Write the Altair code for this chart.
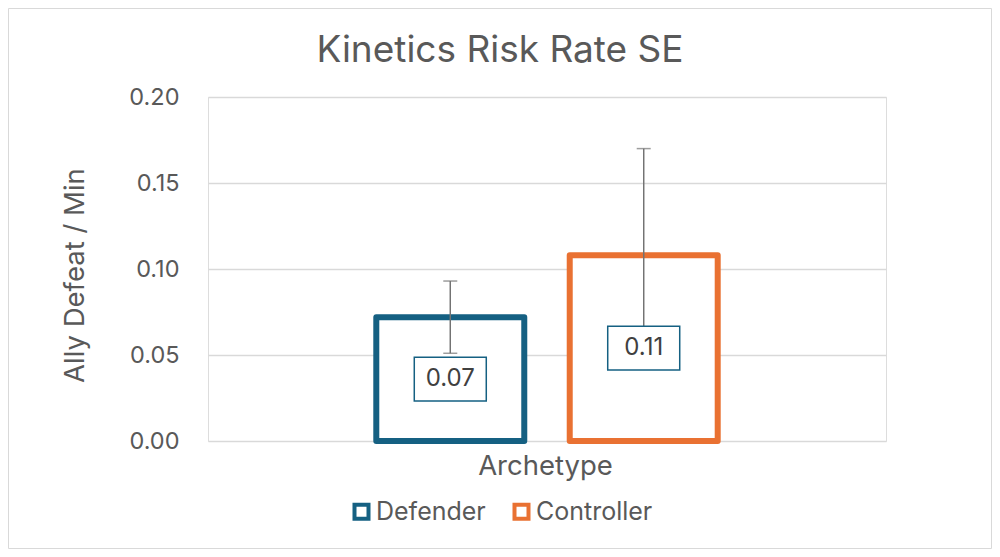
import altair as alt
import pandas as pd

series = ["Defender", "Controller"]
values = [0.072, 0.108]
se = [0.021, 0.062]
labels = ["0.07", "0.11"]
colors = ["#156082", "#E97132"]
y_ticks = [0.0, 0.05, 0.10, 0.15, 0.20]
chart_title = "Kinetics Risk Rate SE"

df = pd.DataFrame({
    "series": series,
    "value": values,
    "lo": [v - s for v, s in zip(values, se)],
    "hi": [v + s for v, s in zip(values, se)],
    "mid": [v / 2 for v in values],
    "label": labels,
})

FONT = "Inter"
TXT = "#595959"

W, H = 678, 344

xenc = alt.X("series:N", sort=series,
             scale=alt.Scale(paddingInner=0.235, paddingOuter=0.87),
             axis=alt.Axis(title="Archetype", labels=False, ticks=False, domain=False,
                           titleFontSize=27.5, titleColor=TXT, titleFont=FONT, titleFontWeight="normal",
                           titleX=W / 2 - 2, titleY=25, titleBaseline="middle", titleAlign="center"))
yscale = alt.Scale(domain=[0, 0.2], nice=False)

base = alt.Chart(df)

bars = base.mark_bar(fill="white", strokeWidth=6, strokeJoin="round").encode(
    x=xenc,
    y=alt.Y("value:Q", scale=yscale,
            axis=alt.Axis(title="Ally Defeat / Min", values=y_ticks, format=".2f",
                          grid=True, gridColor="#d9d9d9", gridWidth=1.5,
                          domain=False, ticks=False, labelPadding=29,
                          labelFontSize=23.5, labelColor=TXT, labelFont=FONT,
                          titleFontSize=27.5, titleColor=TXT, titleFont=FONT, titleFontWeight="normal",
                          titleAngle=-90, titleX=-133, titleY=178,
                          titleAlign="center", titleBaseline="middle")),
    stroke=alt.Stroke("series:N", sort=series,
                      scale=alt.Scale(domain=series, range=colors),
                      legend=alt.Legend(title=None, orient="none", direction="horizontal",
                                        legendX=141, legendY=402,
                                        symbolType="square", symbolSize=196,
                                        symbolStrokeWidth=4, symbolFillColor="white",
                                        labelFontSize=25, labelColor=TXT, labelFont=FONT,
                                        labelOffset=2, columnPadding=20)),
)

err = base.mark_rule(color="#737373", strokeWidth=1.5).encode(
    x=alt.X("series:N", sort=series), y="lo:Q", y2="hi:Q")
cap_hi = base.mark_tick(color="#737373", thickness=1.5, size=14).encode(
    x=alt.X("series:N", sort=series), y="hi:Q")
cap_lo = base.mark_tick(color="#737373", thickness=1.5, size=14).encode(
    x=alt.X("series:N", sort=series), y="lo:Q")

box = base.mark_point(
    shape="M-1,-0.606L1,-0.606L1,0.606L-1,0.606Z",
    size=72 * 72, filled=False, fill="white", fillOpacity=1,
    stroke="#156082", strokeWidth=1.5, opacity=1,
).encode(x=alt.X("series:N", sort=series), y="mid:Q")

txt = base.mark_text(fontSize=24, color="#404040", font=FONT, baseline="middle").encode(
    x=alt.X("series:N", sort=series), y="mid:Q", text="label:N")

title_df = pd.DataFrame({"t": [chart_title]})
title = alt.Chart(title_df).mark_text(
    fontSize=37, color=TXT, font=FONT, align="center", baseline="alphabetic").encode(
    x=alt.value(292), y=alt.value(-35), text="t:N")

border = alt.Chart(pd.DataFrame({"a": [0]})).mark_rect(
    fill=None, stroke="#d9d9d9", strokeWidth=1).encode(
    x=alt.value(-199.5), x2=alt.value(W + 105.5),
    y=alt.value(-88.5), y2=alt.value(H + 107.5))

chart = alt.layer(border, bars, err, cap_hi, cap_lo, box, txt, title).properties(
    width=W, height=H,
    autosize=alt.AutoSizeParams(type="none"),
    padding={"left": 200, "top": 89, "right": 106, "bottom": 108},
).configure_view(stroke=None).configure(background="white")

chart.save("out.html", embed_options={"renderer": "svg", "actions": False})
